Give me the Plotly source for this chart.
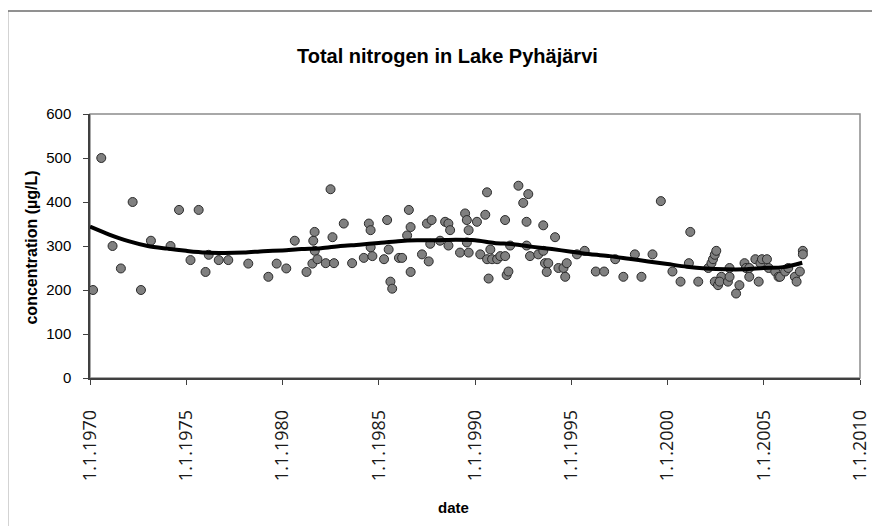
import plotly.graph_objects as go

# Observations: sampling dates and total nitrogen concentration (µg/L)
obs_dates = [
    "1970-02-28", "1970-08-03", "1971-03-05", "1971-08-10", "1972-03-20", "1972-08-25",
    "1973-03-02", "1974-03-09", "1974-08-17", "1975-03-23", "1975-08-25", "1976-01-02",
    "1976-03-02", "1976-09-09", "1977-03-09", "1978-03-23", "1979-04-08", "1979-09-13",
    "1980-03-13", "1980-08-21", "1981-04-01", "1981-07-22", "1981-08-07", "1981-09-02",
    "1981-09-05", "1981-10-26", "1982-04-01", "1982-09-05", "1982-08-07", "1982-07-01",
    "1983-03-09", "1983-08-14", "1984-03-23", "1984-06-27", "1984-07-30", "1984-07-31",
    "1984-09-02", "1985-04-11", "1985-06-09", "1985-07-08", "1985-08-10", "1985-09-13",
    "1986-01-19", "1986-03-20", "1986-06-23", "1986-07-26", "1986-08-28", "1986-08-29",
    "1987-04-01", "1987-07-04", "1987-08-07", "1987-10-01", "1987-09-05", "1988-03-09",
    "1988-06-13", "1988-08-14", "1988-09-16", "1988-08-15", "1989-03-23", "1989-06-27",
    "1989-07-30", "1989-09-02", "1989-07-31", "1989-09-03", "1990-02-07", "1990-04-11",
    "1990-07-15", "1990-08-17", "1990-09-16", "1990-10-19", "1990-08-18", "1990-11-21",
    "1991-02-25", "1991-04-26", "1991-07-26", "1991-07-27", "1991-08-25", "1991-09-27",
    "1991-10-30", "1992-04-04", "1992-07-04", "1992-10-08", "1992-09-05", "1992-09-06",
    "1992-11-10", "1993-04-15", "1993-07-19", "1993-07-20", "1993-08-21", "1993-10-22",
    "1993-09-23", "1994-02-28", "1994-05-03", "1994-08-07", "1994-09-09", "1994-10-08",
    "1995-04-19", "1995-09-13", "1996-04-11", "1996-09-16", "1997-04-15", "1997-09-16",
    "1998-04-22", "1998-08-25", "1999-03-23", "1999-08-28", "2000-04-04", "2000-09-05",
    "2001-02-10", "2001-03-09", "2001-08-07", "2002-02-14", "2002-04-15", "2002-05-14",
    "2002-06-16", "2002-07-15", "2002-06-17", "2002-08-17", "2002-10-19", "2002-09-16",
    "2003-02-21", "2003-03-23", "2003-03-24", "2003-07-26", "2003-09-27", "2004-01-02",
    "2004-01-30", "2004-04-01", "2004-04-02", "2004-07-26", "2004-09-27", "2004-10-30",
    "2004-11-28", "2005-03-02", "2005-04-04", "2005-08-07", "2005-10-08", "2005-11-07",
    "2006-02-10", "2006-04-11", "2006-08-14", "2006-09-16", "2006-11-17", "2007-01-12",
    "2007-01-13",
]
obs_values = [
    200, 500, 300, 249, 400, 200,
    312, 300, 382, 268, 382, 241,
    280, 268, 268, 260, 230, 260,
    249, 312, 241, 260, 312, 332,
    289, 270, 261, 261, 320, 429,
    351, 261, 273, 351, 336, 297,
    277, 270, 359, 292, 219, 203,
    273, 273, 324, 382, 343, 241,
    281, 351, 265, 359, 305, 312,
    355, 351, 336, 301, 285, 374,
    359, 336, 308, 285, 355, 281,
    371, 422, 226, 292, 270, 270,
    270, 277, 359, 277, 234, 242,
    301, 437, 398, 418, 355, 301,
    277, 281, 347, 289, 261, 261,
    241, 320, 250, 250, 230, 261,
    281, 289, 242, 242, 270, 230,
    281, 230, 281, 402, 242, 219,
    261, 332, 219, 250, 261, 270,
    280, 289, 219, 211, 230, 219,
    219, 250, 230, 192, 211, 261,
    250, 230, 250, 270, 219, 261,
    270, 270, 250, 242, 230, 230,
    242, 250, 230, 219, 242, 289,
    281,
]

# Smoothed trend
trend_dates = [
    "1970-01-01", "1971-01-01", "1972-01-01", "1973-01-01", "1974-01-01", "1975-01-01",
    "1976-01-01", "1977-01-01", "1978-01-01", "1979-01-01", "1980-01-01", "1981-01-01",
    "1982-01-01", "1983-01-01", "1984-01-01", "1985-01-01", "1986-01-01", "1987-01-01",
    "1988-01-01", "1989-01-01", "1990-01-01", "1991-01-01", "1992-01-01", "1993-01-01",
    "1994-01-01", "1995-01-01", "1996-01-01", "1997-01-01", "1998-01-01", "1999-01-01",
    "2000-01-01", "2001-01-01", "2002-01-01", "2003-01-01", "2004-01-01", "2005-01-01",
    "2006-01-01", "2007-01-01",
]
trend_values = [
    344, 326, 311, 300, 294, 289,
    285, 284, 285, 288, 290, 293,
    295, 300, 303, 307, 311, 313,
    313, 314, 313, 307, 304, 298,
    293, 287, 281, 277, 271, 265,
    259, 253, 249, 247, 247, 250,
    252, 262,
]

tick_dates = ["1970-01-01", "1975-01-01", "1980-01-01", "1985-01-01", "1990-01-01",
              "1995-01-01", "2000-01-01", "2005-01-01", "2010-01-01"]
tick_labels = ["1.1.1970", "1.1.1975", "1.1.1980", "1.1.1985", "1.1.1990",
               "1.1.1995", "1.1.2000", "1.1.2005", "1.1.2010"]

fig = go.Figure()
fig.add_trace(go.Scatter(
    x=obs_dates, y=obs_values, mode="markers",
    marker=dict(size=9, color="#808080", line=dict(color="#2a2a2a", width=1)),
    showlegend=False, hoverinfo="x+y",
))
fig.add_trace(go.Scatter(
    x=trend_dates, y=trend_values, mode="lines",
    line=dict(color="black", width=4, shape="spline", smoothing=0.8),
    showlegend=False,
))

# page offset (default body margin of the html page)
OX, OY = 8, 8
W, H = 880, 526
# plot area in page pixel coordinates
PX0, PX1, PY0, PY1 = 89.5, 860, 114, 378
L, R = PX0 - OX, W - (PX1 - OX)
T, B = PY0 - OY, H - (PY1 - OY)
pw, ph = PX1 - PX0, PY1 - PY0


def px(x):
    return (x - PX0) / pw


def py(y):
    return (PY1 - y) / ph


fig.update_layout(
    width=W, height=H,
    margin=dict(l=L, r=R, t=T, b=B, pad=0, autoexpand=False),
    paper_bgcolor="white", plot_bgcolor="white",
    font=dict(family="Arial, Liberation Sans, sans-serif", color="black"),
    xaxis=dict(
        type="date", range=["1970-01-01", "2010-01-01"],
        tickmode="array", tickvals=tick_dates, ticktext=tick_labels,
        tickangle=-90, ticks="outside", ticklen=5, tickcolor="#404040",
        tickfont=dict(family="Open Sans, Noto Sans, sans-serif", size=18, color="#1a1a1a"),
        ticklabelstandoff=18,
        showline=True, linecolor="#404040", linewidth=1.5,
        showgrid=False, zeroline=False,
    ),
    yaxis=dict(
        range=[0, 600], tickmode="linear", tick0=0, dtick=100,
        ticks="outside", ticklen=5, tickcolor="#404040",
        tickfont=dict(size=15, color="black"),
        ticklabelstandoff=9,
        showline=True, linecolor="#404040", linewidth=1.5,
        showgrid=False, zeroline=False,
    ),
    shapes=[
        # plot-area border (top/right grey)
        dict(type="rect", xref="paper", yref="paper", x0=0, x1=1, y0=0, y1=1,
             line=dict(color="#8c8c8c", width=1.5), layer="below"),
        # outer chart border
        dict(type="rect", xref="paper", yref="paper",
             x0=px(7), x1=px(900), y0=py(560), y1=py(11),
             line=dict(color="#6e6e6e", width=1.5), layer="below"),
    ],
    annotations=[
        dict(text="<b>Total nitrogen in Lake Pyhäjärvi</b>", xref="paper", yref="paper",
             x=px(447), y=py(56), showarrow=False,
             xanchor="center", yanchor="middle", font=dict(size=20, color="black")),
        dict(text="<b>concentration (µg/L)</b>", xref="paper", yref="paper",
             x=px(30), y=py(248), showarrow=False, textangle=-90,
             xanchor="center", yanchor="middle", font=dict(size=16, color="black")),
        dict(text="<b>date</b>", xref="paper", yref="paper",
             x=px(453), y=py(507), showarrow=False,
             xanchor="center", yanchor="middle", font=dict(size=15, color="black")),
    ],
)

fig.write_html("out.html")
